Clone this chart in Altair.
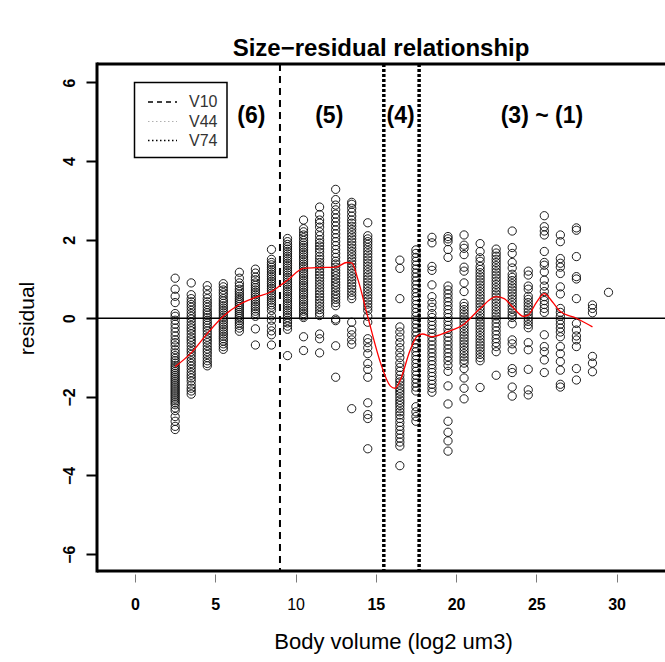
import altair as alt
import pandas as pd

# Residuals of each body-volume bin (bin centre in log2 um3)
res_02_5 = [1.02, 0.74, 0.56, 0.4, 0.12, 0.05, -0.05, -0.15, -0.25, -0.35, -0.45, -0.55, -0.62, -0.7,
            -0.8, -0.88, -0.95, -1.02, -1.08, -1.14, -1.2, -1.25, -1.3, -1.35, -1.4, -1.45, -1.5, -1.55,
            -1.6, -1.65, -1.7, -1.75, -1.8, -1.85, -1.9, -1.95, -2.0, -2.05, -2.1, -2.15, -2.2, -2.28,
            -2.35, -2.5, -2.62, -2.75, -2.83]
res_03_5 = [0.9, 0.6, 0.5, 0.42, 0.35, 0.28, 0.2, 0.12, 0.05, -0.02, -0.1, -0.18, -0.25, -0.32, -0.4,
            -0.48, -0.55, -0.62, -0.7, -0.78, -0.85, -0.92, -1.0, -1.08, -1.15, -1.22, -1.3, -1.38,
            -1.45, -1.52, -1.6, -1.7, -1.78, -1.85, -1.93]
res_04_5 = [0.83, 0.72, 0.6, 0.5, 0.42, 0.35, 0.28, 0.2, 0.14, 0.08, 0.02, -0.05, -0.12, -0.18, -0.25,
            -0.32, -0.4, -0.48, -0.55, -0.62, -0.7, -0.78, -0.85, -0.92, -1.0, -1.08, -1.15, -1.21]
res_05_5 = [0.88, 0.8, 0.72, 0.65, 0.58, 0.5, 0.44, 0.38, 0.32, 0.26, 0.2, 0.14, 0.08, 0.02, -0.04,
            -0.1, -0.16, -0.22, -0.28, -0.34, -0.4, -0.46, -0.52, -0.58, -0.65, -0.72, -0.79]
res_06_5 = [1.17, 1.02, 0.9, 0.82, 0.74, 0.68, 0.62, 0.56, 0.5, 0.45, 0.4, 0.35, 0.3, 0.25, 0.2, 0.15,
            0.1, 0.05, 0.0, -0.06, -0.12, -0.18, -0.25, -0.33]
res_07_5 = [1.25, 1.15, 1.05, 0.98, 0.9, 0.84, 0.78, 0.72, 0.66, 0.6, 0.54, 0.48, 0.42, 0.36, 0.3,
            0.24, 0.18, 0.12, 0.05, -0.27, -0.68]
res_08_5 = [1.75, 1.5, 1.42, 1.36, 1.3, 1.24, 1.18, 1.12, 1.06, 1.0, 0.94, 0.88, 0.82, 0.76, 0.7, 0.64,
            0.58, 0.52, 0.46, 0.4, 0.34, 0.28, 0.2, 0.06, -0.05, -0.2, -0.32, -0.42, -0.68]
res_09_5 = [2.03, 1.95, 1.88, 1.82, 1.76, 1.7, 1.64, 1.58, 1.52, 1.46, 1.4, 1.34, 1.28, 1.22, 1.16,
            1.1, 1.04, 0.98, 0.92, 0.86, 0.8, 0.74, 0.68, 0.62, 0.56, 0.5, 0.44, 0.38, 0.32, 0.26,
            0.2, 0.14, 0.08, 0.02, -0.05, -0.12, -0.2, -0.28, -0.95]
res_10_5 = [2.5, 2.28, 2.2, 2.12, 2.05, 1.98, 1.92, 1.86, 1.8, 1.74, 1.68, 1.62, 1.56, 1.5, 1.44, 1.38,
            1.32, 1.26, 1.2, 1.14, 1.08, 1.02, 0.96, 0.9, 0.84, 0.78, 0.72, 0.66, 0.6, 0.54, 0.48,
            0.42, 0.36, 0.3, 0.24, 0.18, 0.12, 0.06, 0.02, -0.47, -0.82]
res_11_5 = [2.83, 2.64, 2.5, 2.42, 2.32, 2.2, 2.1, 2.0, 1.92, 1.84, 1.76, 1.68, 1.58, 1.5, 1.42, 1.34,
            1.26, 1.18, 1.1, 1.02, 0.94, 0.86, 0.78, 0.7, 0.62, 0.54, 0.46, 0.38, 0.3, 0.22, 0.14,
            0.07, -0.4, -0.52, -0.88]
res_12_5 = [3.28, 3.02, 2.88, 2.76, 2.65, 2.55, 2.45, 2.35, 2.25, 2.15, 2.05, 1.95, 1.85, 1.75, 1.65,
            1.55, 1.45, 1.38, 1.3, 1.22, 1.15, 1.08, 1.0, 0.92, 0.85, 0.78, 0.7, 0.62, 0.55, 0.48,
            0.4, 0.32, -0.02, -0.06, -0.7, -1.5]
res_13_5 = [2.95, 2.9, 2.8, 2.7, 2.6, 2.5, 2.42, 2.34, 2.26, 2.18, 2.1, 2.02, 1.94, 1.86, 1.78, 1.7,
            1.62, 1.54, 1.46, 1.38, 1.3, 1.22, 1.14, 1.06, 0.98, 0.9, 0.82, 0.74, 0.66, 0.58, 0.5,
            -0.1, -0.3, -0.42, -0.55, -0.66, -2.3]
res_14_5 = [2.43, 2.1, 2.02, 1.95, 1.88, 1.8, 1.72, 1.64, 1.56, 1.48, 1.4, 1.32, 1.24, 1.16, 1.08, 1.0,
            0.92, 0.84, 0.76, 0.68, 0.6, 0.52, 0.44, 0.36, 0.28, 0.2, 0.05, -0.1, -0.52, -0.62,
            -0.75, -0.9, -1.15, -1.3, -1.5, -2.15, -2.45, -2.55, -3.32]
res_16_5 = [1.48, 1.27, 0.5, -0.22, -0.35, -0.48, -0.62, -0.75, -0.88, -1.0, -1.14, -1.25, -1.35,
            -1.45, -1.55, -1.62, -1.7, -1.78, -1.85, -1.92, -2.0, -2.08, -2.15, -2.22, -2.3, -2.38,
            -2.46, -2.55, -2.65, -2.75, -2.85, -2.95, -3.05, -3.15, -3.25, -3.75]
res_17_5 = [1.74, 1.65, 1.55, 1.45, 1.35, 1.25, 1.15, 1.05, 0.95, 0.85, 0.75, 0.65, 0.55, 0.45, 0.35,
            0.25, 0.15, 0.05, -0.05, -0.15, -0.25, -0.35, -0.45, -0.55, -0.65, -0.75, -0.85, -0.95,
            -1.05, -1.15, -1.25, -1.35, -1.45, -1.55, -1.65, -1.75, -1.85, -2.25, -2.38, -2.5, -2.62]
res_18_5 = [2.06, 1.92, 1.32, 1.22, 0.85, 0.55, 0.4, 0.28, 0.12, 0.02, -0.08, -0.18, -0.28, -0.38,
            -0.48, -0.58, -0.68, -0.78, -0.88, -0.98, -1.08, -1.18, -1.28, -1.38, -1.48, -1.58,
            -1.68, -1.78, -1.88]
res_19_5 = [2.08, 2.02, 1.95, 1.75, 1.55, 0.82, 0.72, 0.62, 0.52, 0.42, 0.32, 0.22, 0.12, 0.02, -0.08,
            -0.18, -0.28, -0.38, -0.48, -0.58, -0.68, -0.78, -0.88, -0.98, -1.08, -1.2, -1.35,
            -1.72, -2.18, -2.62, -2.9, -3.12, -3.38]
res_20_5 = [2.12, 1.86, 1.78, 1.62, 1.3, 1.2, 0.9, 0.68, 0.38, 0.3, 0.22, 0.14, 0.06, -0.02, -0.1,
            -0.18, -0.26, -0.34, -0.42, -0.5, -0.58, -0.66, -0.74, -0.82, -0.9, -0.98, -1.06, -1.14,
            -1.28, -1.52, -1.78, -2.05]
res_21_5 = [1.9, 1.7, 1.54, 1.45, 1.32, 1.24, 1.16, 1.08, 1.0, 0.92, 0.84, 0.76, 0.68, 0.6, 0.52,
            0.44, 0.36, 0.28, 0.2, 0.12, 0.04, -0.04, -0.12, -0.2, -0.28, -0.36, -0.44, -0.52, -0.6,
            -0.68, -0.76, -0.84, -0.92, -1.0, -1.08, -1.76]
res_22_5 = [1.76, 1.66, 1.58, 1.5, 1.42, 1.34, 1.26, 1.18, 1.1, 1.02, 0.94, 0.86, 0.78, 0.7, 0.62,
            0.54, 0.46, 0.38, 0.3, 0.22, 0.14, 0.06, -0.02, -0.12, -0.22, -0.32, -0.42, -0.52, -0.62,
            -0.72, -0.85, -1.45]
res_23_5 = [2.22, 1.8, 1.65, 1.42, 1.28, 1.12, 1.04, 0.96, 0.88, 0.8, 0.72, 0.64, 0.56, 0.48, 0.4,
            0.32, 0.24, 0.16, 0.08, 0.02, -0.14, -0.55, -0.65, -0.8, -1.28, -1.38, -1.75, -1.98]
res_24_5 = [1.2, 1.1, 0.82, 0.74, 0.56, 0.48, 0.4, 0.32, 0.24, 0.16, 0.08, 0.0, -0.08, -0.16, -0.24,
            -0.62, -0.8, -1.3, -1.82, -1.95]
res_25_5 = [2.61, 2.33, 2.22, 2.12, 1.7, 1.42, 1.35, 1.18, 0.97, 0.82, 0.68, 0.55, 0.45, 0.35, 0.25,
            0.15, -0.42, -0.72, -0.85, -1.06, -1.38]
res_26_5 = [2.12, 1.95, 1.52, 1.4, 1.3, 1.14, 0.8, 0.62, 0.25, 0.15, 0.05, -0.05, -0.15, -0.25, -0.35,
            -0.47, -0.72, -0.9, -1.1, -1.32, -1.68, -1.75]
res_27_5 = [2.3, 2.24, 1.57, 1.06, 1.0, 0.5, -0.13, -0.3, -0.45, -0.55, -0.72, -1.28, -1.57]
res_28_5 = [0.34, 0.25, 0.14, -0.97, -1.14, -1.36]
res_29_5 = [0.66]

bins = [
    (2.5, res_02_5), (3.5, res_03_5), (4.5, res_04_5), (5.5, res_05_5), (6.5, res_06_5),
    (7.5, res_07_5), (8.5, res_08_5), (9.5, res_09_5), (10.5, res_10_5), (11.5, res_11_5),
    (12.5, res_12_5), (13.5, res_13_5), (14.5, res_14_5), (16.5, res_16_5), (17.5, res_17_5),
    (18.5, res_18_5), (19.5, res_19_5), (20.5, res_20_5), (21.5, res_21_5), (22.5, res_22_5),
    (23.5, res_23_5), (24.5, res_24_5), (25.5, res_25_5), (26.5, res_26_5), (27.5, res_27_5),
    (28.5, res_28_5), (29.5, res_29_5),
]

# Smoothed trend of the residuals
smooth_x = [2.5, 3.5, 4.5, 5.5, 6.5, 7.5, 8.5, 9.0, 9.5, 10.5, 11.5, 12.5, 13.2, 13.5, 13.9, 14.5,
            15.3, 15.9, 16.2, 16.5, 17.15, 17.55, 17.9, 18.5, 19.5, 20.5, 21.5, 22.5, 23.0, 23.5,
            24.2, 24.5, 25.0, 25.5, 26.0, 26.5, 27.5, 28.5]
smooth_y = [-1.23, -0.88, -0.39, 0.05, 0.35, 0.53, 0.68, 0.82, 0.97, 1.27, 1.29, 1.3, 1.42, 1.41,
            0.97, 0.04, -1.14, -1.72, -1.78, -1.6, -0.8, -0.47, -0.4, -0.47, -0.34, -0.15, 0.25,
            0.55, 0.5, 0.3, 0.05, 0.08, 0.4, 0.63, 0.42, 0.17, 0.0, -0.22]

# Stage boundaries
cut_names = ["V10", "V44", "V74"]
cut_pos = [9.03, 15.5, 17.7]

# Stage labels
stage_labels = ["(6)", "(5)", "(4)", "(3) ~ (1)"]
stage_pos = [7.25, 12.1, 16.55, 25.35]
stage_level = 5.15

x_ticks = [0, 5, 10, 15, 20, 25, 30]
y_ticks = [-6, -4, -2, 0, 2, 4, 6]

W, H = 568, 507
FONT = "Liberation Sans"

points = pd.DataFrame([{"volume": x, "residual": r} for x, rs in bins for r in rs])
smooth = pd.DataFrame({"volume": smooth_x, "residual": smooth_y})
cuts = pd.DataFrame({"name": cut_names, "volume": cut_pos})
stages = pd.DataFrame({"label": stage_labels, "volume": stage_pos})
one = pd.DataFrame({"k": [0]})

xs = alt.Scale(domain=[-2.37, 33.02], nice=False, zero=False)
ys = alt.Scale(domain=[-6.43, 6.47], nice=False, zero=False)

x_axis = alt.Axis(
    values=x_ticks, title="Body volume (log2 um3)", domain=False, grid=False,
    tickColor="#7a7a7a", tickWidth=1, tickSize=8, offset=3,
    labelFont=FONT, labelFontSize=16, labelColor="black",
    labelFontWeight={"condition": {"test": "datum.value === 10", "value": "normal"}, "value": "bold"},
    labelPadding=22, labelBaseline="middle", labelFlush=False,
    titleFont=FONT, titleFontSize=22, titleFontWeight="normal", titleColor="black",
    titleX=296, titleY=67, titleAlign="center", titleBaseline="middle",
)
y_axis = alt.Axis(
    values=y_ticks, title="residual", domain=False, grid=False,
    tickColor="black", tickWidth=2, tickSize=11,
    labelFont=FONT, labelFontSize=16, labelFontWeight="bold", labelColor="black",
    labelAngle=270, labelAlign="center", labelBaseline="middle", labelPadding=17,
    titleFont=FONT, titleFontSize=21, titleFontWeight="normal", titleColor="black",
    titleAngle=270, titleX=-70, titleY=254, titleAlign="center", titleBaseline="middle",
)


def xq(field="volume"):
    return alt.X(f"{field}:Q", scale=xs, axis=x_axis, title="Body volume (log2 um3)")


def yq(field="residual"):
    return alt.Y(f"{field}:Q", scale=ys, axis=y_axis, title="residual")


scatter = alt.Chart(points).mark_point(
    shape="circle", filled=False, size=68, strokeWidth=0.95, color="#111111", opacity=1, clip=True
).encode(x=xq(), y=yq())

zero_line = alt.Chart(one).mark_rule(color="black", strokeWidth=1.5).encode(
    y=alt.Y(datum=0, scale=ys, axis=y_axis, title="residual")
)

dashed_cut = alt.Chart(cuts[cuts["name"] == "V10"]).mark_rule(
    color="black", strokeWidth=2, strokeDash=[7, 5]
).encode(x=xq())

dotted_cuts = alt.Chart(cuts[cuts["name"] != "V10"]).mark_rule(
    color="black", strokeWidth=3.5, strokeDash=[3, 2], strokeCap="butt"
).encode(x=xq())

trend = alt.Chart(smooth).mark_line(
    color="#ff0000", strokeWidth=1.3, interpolate="monotone", clip=True
).encode(x=xq(), y=yq())

stage_text = alt.Chart(stages).mark_text(
    font=FONT, fontSize=23, fontWeight="bold", color="black", baseline="middle", align="center"
).encode(
    x=xq(),
    y=alt.Y(datum=stage_level, scale=ys, axis=y_axis, title="residual"),
    text="label:N",
)

# Plot frame (left, top, bottom)
frame_top = alt.Chart(one).mark_rule(color="black", strokeWidth=3).encode(
    x=alt.value(0), x2=alt.value(W), y=alt.value(0)
)
frame_left = alt.Chart(one).mark_rule(color="black", strokeWidth=3).encode(
    x=alt.value(0), y=alt.value(-1.5), y2=alt.value(H + 1.5)
)
frame_bottom = alt.Chart(one).mark_rule(color="black", strokeWidth=3).encode(
    x=alt.value(0), x2=alt.value(W), y=alt.value(H)
)

# Legend box for the stage boundaries
legend_box = alt.Chart(one).mark_rect(fill="white", stroke="black", strokeWidth=1.5).encode(
    x=alt.value(37.5), x2=alt.value(130), y=alt.value(18.5), y2=alt.value(93.5)
)
leg_v10 = alt.Chart(one).mark_rule(color="black", strokeWidth=1.6, strokeDash=[5, 4]).encode(
    x=alt.value(51), x2=alt.value(80), y=alt.value(38)
)
leg_v44 = alt.Chart(one).mark_rule(color="#b0b0b0", strokeWidth=1, strokeDash=[1.5, 2.5]).encode(
    x=alt.value(51), x2=alt.value(80), y=alt.value(57.5)
)
leg_v74 = alt.Chart(one).mark_rule(color="black", strokeWidth=1.3, strokeDash=[1.5, 2.5]).encode(
    x=alt.value(51), x2=alt.value(80), y=alt.value(76.5)
)
leg_texts = [
    alt.Chart(one).mark_text(
        text=name, font=FONT, fontSize=16, color="#333333", align="left", baseline="middle"
    ).encode(x=alt.value(92), y=alt.value(ypix))
    for name, ypix in zip(cut_names, [38, 57.5, 76.5])
]

chart = alt.layer(
    scatter, zero_line, dashed_cut, dotted_cuts, trend, stage_text,
    legend_box, leg_v10, leg_v44, leg_v74, *leg_texts,
    frame_top, frame_left, frame_bottom,
).properties(
    width=W, height=H,
    title=alt.TitleParams(
        "Size\u2212residual relationship", font=FONT, fontSize=24, fontWeight="bold",
        color="black", anchor="middle", frame="group", offset=0,
    ),
    autosize=alt.AutoSizeParams(type="none"),
    padding={"left": 97, "top": 64, "right": 0, "bottom": 91},
).configure_view(strokeWidth=0).configure(background="white")

chart.save("out.html", embed_options={"renderer": "svg", "actions": False})
